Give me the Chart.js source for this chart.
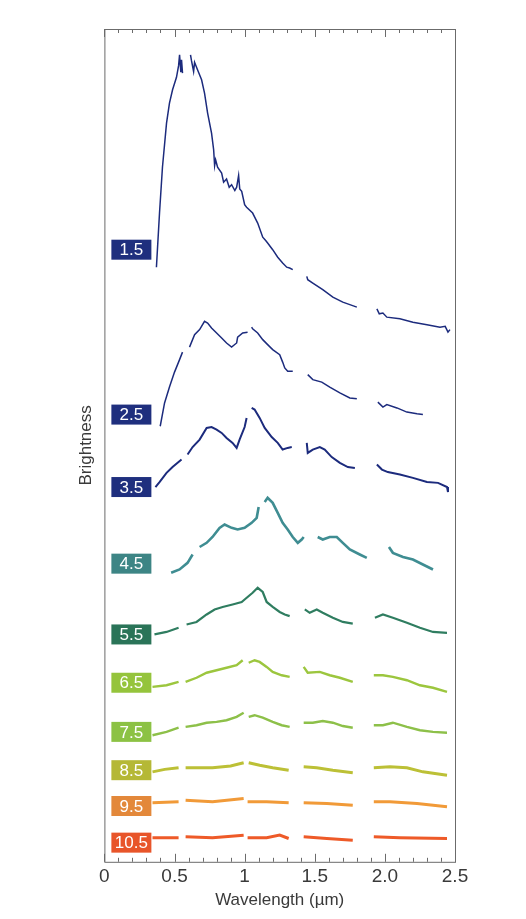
<!DOCTYPE html>
<html>
<head>
<meta charset="utf-8">
<script src="https://cdn.jsdelivr.net/npm/chart.js@4.4.1/dist/chart.umd.min.js"></script>
<style>
  html, body { margin: 0; padding: 0; background: #fff; }
  #wrap { width: 526px; height: 919px; }
</style>
</head>
<body>
<div id="wrap"><canvas id="spectraChart"></canvas></div>
<script>
// Spectral types (one spectrum each), top to bottom
const spectralTypes = ['1.5', '2.5', '3.5', '4.5', '5.5', '6.5', '7.5', '8.5', '9.5', '10.5'];

// [wavelength (µm), brightness + offset]; null = gap in the spectrum
const spec15 = [[0.371,71.4],[0.393,77.9],[0.414,83.4],[0.443,88.7],[0.464,91.1],[0.486,92.7],[0.514,94.2],[0.529,95.6],[0.536,96.9],[0.545,94.8],[0.55,96.3],[0.557,94.7],[0.585,null],
  [0.614,96.9],[0.621,96.2],[0.636,94.9],[0.643,96.0],[0.664,95.1],[0.693,93.9],[0.714,92.3],[0.736,89.9],[0.764,87.5],[0.779,85.5],[0.786,83.6],[0.793,84.3],[0.807,83.4],
  [0.836,82.7],[0.85,81.6],[0.871,82.0],[0.89,81.0],[0.907,81.3],[0.93,80.6],[0.943,81.0],[0.957,82.4],[0.965,80.8],[0.979,80.5],[1.0,78.9],[1.014,78.6],[1.057,77.9],
  [1.093,76.7],[1.129,75.0],[1.15,74.6],[1.164,74.3],[1.2,73.5],[1.236,72.6],[1.271,71.9],[1.3,71.4],[1.321,71.3],[1.343,71.1],[1.39,null],
  [1.443,70.3],[1.45,69.9],[1.486,69.5],[1.557,68.7],[1.629,67.8],[1.7,67.2],[1.75,66.9],[1.8,66.6],[1.87,null],
  [1.943,66.4],[1.96,65.8],[1.986,65.9],[2.014,65.4],[2.107,65.2],[2.2,64.8],[2.3,64.5],[2.393,64.2],[2.43,64.3],[2.45,63.6],[2.464,63.9]];

const spec25 = [[0.398,52.3],[0.429,55.1],[0.464,57.0],[0.5,58.8],[0.536,60.3],[0.557,61.2],[0.575,null],
  [0.607,61.8],[0.643,63.3],[0.679,63.9],[0.714,64.9],[0.736,64.7],[0.764,64.1],[0.8,63.5],[0.836,62.9],[0.871,62.3],[0.907,61.8],[0.943,62.3],[0.95,63.0],[0.986,63.5],[1.021,63.6],[1.035,null],
  [1.05,64.2],[1.057,64.0],[1.093,63.5],[1.129,62.7],[1.164,62.1],[1.2,61.5],[1.25,60.9],[1.271,60.0],[1.286,59.3],[1.307,58.9],[1.343,58.9],[1.4,null],
  [1.45,58.5],[1.486,57.9],[1.55,57.6],[1.607,57.0],[1.679,56.3],[1.75,55.7],[1.8,55.6],[1.88,null],
  [1.95,55.2],[1.986,54.6],[2.014,54.9],[2.086,54.5],[2.157,54.0],[2.229,53.8],[2.271,53.7]];

const spec35 = [[0.364,45.0],[0.393,45.6],[0.443,46.7],[0.486,47.4],[0.55,48.3],[0.57,null],
  [0.593,48.9],[0.629,49.8],[0.679,50.7],[0.729,52.1],[0.764,52.2],[0.8,51.9],[0.836,51.5],[0.871,50.9],[0.914,50.3],[0.943,49.7],[0.964,50.7],[1.0,52.2],[1.014,53.3],[1.03,null],
  [1.05,54.5],[1.071,54.3],[1.107,53.3],[1.143,52.1],[1.193,51.0],[1.236,50.3],[1.271,49.5],[1.307,49.7],[1.336,49.8],[1.39,null],
  [1.443,50.3],[1.45,49.1],[1.486,49.5],[1.536,49.8],[1.571,49.5],[1.621,48.6],[1.679,47.9],[1.736,47.4],[1.786,47.3],[1.86,null],
  [1.943,47.7],[1.979,47.1],[2.021,46.8],[2.107,46.5],[2.2,46.1],[2.3,45.6],[2.379,45.5],[2.443,45.0],[2.45,44.4]];

const spec45 = [[0.476,34.7],[0.536,35.1],[0.593,35.9],[0.629,36.9],[0.65,null],
  [0.679,37.8],[0.729,38.3],[0.771,39.0],[0.821,40.1],[0.857,40.5],[0.907,40.1],[0.95,39.9],[1.0,40.1],[1.05,40.7],[1.086,41.3],[1.1,42.6],[1.12,null],
  [1.143,43.2],[1.164,43.7],[1.2,43.1],[1.236,41.9],[1.271,40.7],[1.307,39.9],[1.343,39.0],[1.379,38.3],[1.407,38.7],[1.421,39.0],[1.47,null],
  [1.521,39.0],[1.557,38.7],[1.607,39.0],[1.657,39.0],[1.7,38.3],[1.75,37.5],[1.821,36.9],[1.871,36.5],[1.95,null],
  [2.029,37.8],[2.057,37.1],[2.129,36.6],[2.2,36.3],[2.271,35.7],[2.343,35.1]];

const spec55 = [[0.357,27.3],[0.443,27.6],[0.529,28.1],[0.56,null],
  [0.586,28.5],[0.657,28.8],[0.729,29.7],[0.786,30.3],[0.843,30.6],[0.914,30.9],[0.979,31.2],[1.0,31.5],[1.057,32.3],[1.093,32.9],[1.129,32.4],[1.157,31.2],[1.2,30.6],[1.25,30.0],[1.286,29.7],[1.321,29.5],[1.38,null],
  [1.429,30.3],[1.464,29.9],[1.514,30.3],[1.557,29.9],[1.629,29.3],[1.7,28.8],[1.771,28.6],[1.85,null],
  [1.929,29.3],[1.986,29.7],[2.057,29.3],[2.157,28.7],[2.25,28.1],[2.343,27.6],[2.443,27.5]];

const spec65 = [[0.343,21.0],[0.443,21.2],[0.529,21.6],[0.555,null],
  [0.579,21.6],[0.657,22.1],[0.729,22.7],[0.8,23.0],[0.871,23.3],[0.943,23.6],[0.986,24.2],[1.005,null],
  [1.029,23.9],[1.071,24.2],[1.107,24.0],[1.157,23.4],[1.2,22.8],[1.264,22.4],[1.321,22.2],[1.37,null],
  [1.421,23.4],[1.45,22.7],[1.536,22.8],[1.607,22.4],[1.679,22.1],[1.771,21.6],[1.85,null],
  [1.921,22.4],[1.986,22.4],[2.057,22.2],[2.157,21.8],[2.25,21.2],[2.343,20.9],[2.443,20.4]];

const spec75 = [[0.343,15.2],[0.443,15.6],[0.529,16.1],[0.555,null],
  [0.579,16.2],[0.657,16.4],[0.729,16.7],[0.8,16.8],[0.871,17.0],[0.943,17.4],[0.993,17.9],[1.01,null],
  [1.029,17.4],[1.071,17.6],[1.129,17.3],[1.2,16.8],[1.264,16.4],[1.321,16.2],[1.37,null],
  [1.421,16.7],[1.486,16.7],[1.557,16.9],[1.629,16.7],[1.7,16.3],[1.771,16.1],[1.85,null],
  [1.921,16.4],[1.986,16.4],[2.057,16.7],[2.157,16.2],[2.25,15.8],[2.343,15.6],[2.443,15.5]];

const spec85 = [[0.343,10.8],[0.43,11.1],[0.529,11.3],[0.555,null],
  [0.579,11.3],[0.771,11.3],[0.9,11.5],[0.993,11.9],[1.01,null],
  [1.029,11.9],[1.107,11.6],[1.2,11.3],[1.314,11.0],[1.37,null],
  [1.421,11.4],[1.514,11.3],[1.629,11.0],[1.771,10.7],[1.85,null],
  [1.921,11.3],[2.036,11.4],[2.157,11.3],[2.271,10.8],[2.443,10.4]];

const spec95 = [[0.343,7.1],[0.529,7.2],[0.555,null],
  [0.579,7.4],[0.771,7.2],[0.993,7.6],[1.005,null],
  [1.021,7.2],[1.157,7.2],[1.314,7.1],[1.37,null],
  [1.421,7.1],[1.586,7.0],[1.771,6.8],[1.85,null],
  [1.921,7.2],[2.036,7.2],[2.229,7.0],[2.443,6.6]];

const spec105 = [[0.343,2.9],[0.529,2.9],[0.555,null],
  [0.579,3.0],[0.771,2.9],[0.993,3.2],[1.005,null],
  [1.021,2.9],[1.157,2.9],[1.25,3.2],[1.314,2.8],[1.37,null],
  [1.421,3.0],[1.586,2.8],[1.771,2.6],[1.85,null],
  [1.921,3.0],[2.107,2.9],[2.443,2.8]];

const spectra = [spec15, spec25, spec35, spec45, spec55, spec65, spec75, spec85, spec95, spec105];

// where each type's label box sits (brightness units, box centre)
const labelLevels = [73.5, 53.7, 45.0, 35.8, 27.3, 21.5, 15.6, 11.0, 6.7, 2.3];
const labelRight = 0.335; // µm, right edge of the label boxes

const lineColors = ['#1c2b7d', '#1c2b7d', '#1c2b7d', '#3f8d92', '#2f7d60', '#9cc63e', '#8dc049', '#bcc036', '#f19a38', '#ee5a28'];
const boxColors  = ['#1f2f7e', '#1f2f7e', '#1f2f7e', '#3d8585', '#2a7458', '#95c43c', '#8cc244', '#b5b836', '#e3883a', '#e8552a'];
const lineWidths = [1.5, 1.5, 2, 2.6, 2.2, 2.4, 2.4, 3, 3, 3];

// x-axis tick labels
const xTickValues = [0, 0.5, 1, 1.5, 2, 2.5];
const xTickText = ['0', '0.5', '1', '1.5', '2.0', '2.5'];

function majorIndex(v) {
  return xTickValues.findIndex(t => Math.abs(t - v) < 1e-6);
}

// white page
const whiteBg = {
  id: 'whiteBg',
  beforeDraw(chart) {
    const c = chart.ctx;
    c.save();
    c.fillStyle = '#fff';
    c.fillRect(0, 0, chart.width, chart.height);
    c.restore();
  }
};

// frame with inward ticks on top and bottom
const frameTicks = {
  id: 'frameTicks',
  afterDraw(chart) {
    const c = chart.ctx;
    const a = chart.chartArea;
    const xs = chart.scales.x;
    c.save();
    c.strokeStyle = '#6b6b6b';
    c.lineWidth = 1;
    c.strokeRect(a.left + 0.5, a.top + 0.5, a.right - a.left, a.bottom - a.top);
    xs.ticks.forEach(t => {
      const px = Math.round(xs.getPixelForValue(t.value)) + 0.5;
      const len = majorIndex(t.value) >= 0 ? 8 : 4;
      c.beginPath();
      c.moveTo(px, a.bottom);
      c.lineTo(px, a.bottom - len);
      c.moveTo(px, a.top);
      c.lineTo(px, a.top + len);
      c.stroke();
    });
    c.restore();
  }
};

// coloured boxes with the spectral type
const typeBoxes = {
  id: 'typeBoxes',
  afterDatasetsDraw(chart) {
    const c = chart.ctx;
    const xs = chart.scales.x, ys = chart.scales.y;
    c.save();
    c.font = '17px "Liberation Sans", Arial, sans-serif';
    c.textBaseline = 'middle';
    c.textAlign = 'center';
    spectralTypes.forEach((name, i) => {
      const right = xs.getPixelForValue(labelRight);
      const cy = ys.getPixelForValue(labelLevels[i]);
      const w = Math.max(40, c.measureText(name).width + 5);
      const h = 20;
      c.fillStyle = boxColors[i];
      c.fillRect(right - w, cy - h / 2, w, h);
      c.fillStyle = '#fff';
      c.fillText(name, right - w / 2, cy + 1);
    });
    c.restore();
  }
};

const ctx = document.getElementById('spectraChart').getContext('2d');
const spectraChart = new Chart(ctx, {
  type: 'line',
  data: {
    datasets: spectra.map((s, i) => ({
      label: spectralTypes[i],
      data: s,
      borderColor: lineColors[i],
      borderWidth: lineWidths[i],
      pointRadius: 0,
      tension: 0,
      spanGaps: false,
      fill: false
    }))
  },
  options: {
    responsive: true,
    maintainAspectRatio: false,
    animation: false,
    layout: { padding: { top: 29, left: 76, right: 71, bottom: 4 } },
    plugins: {
      legend: { display: false },
      tooltip: { enabled: false }
    },
    scales: {
      x: {
        type: 'linear',
        min: 0,
        max: 2.5,
        grid: { display: false },
        border: { display: false },
        ticks: {
          stepSize: 0.1,
          autoSkip: false,
          maxRotation: 0,
          padding: -4,
          color: '#3a3a3a',
          font: { family: '"Liberation Sans", Arial, sans-serif', size: 19 },
          callback: v => {
            const k = majorIndex(v);
            return k >= 0 ? xTickText[k] : '';
          }
        },
        title: {
          display: true,
          text: 'Wavelength (µm)',
          color: '#3a3a3a',
          font: { family: '"Liberation Sans", Arial, sans-serif', size: 17 },
          padding: { top: 6, bottom: 4 }
        }
      },
      y: {
        min: 0,
        max: 100,
        grid: { display: false },
        border: { display: false },
        ticks: { display: false },
        title: {
          display: true,
          text: 'Brightness',
          color: '#3a3a3a',
          font: { family: '"Liberation Sans", Arial, sans-serif', size: 17 },
          padding: { top: 0, bottom: 0 }
        }
      }
    }
  },
  plugins: [whiteBg, frameTicks, typeBoxes]
});
</script>
</body>
</html>
